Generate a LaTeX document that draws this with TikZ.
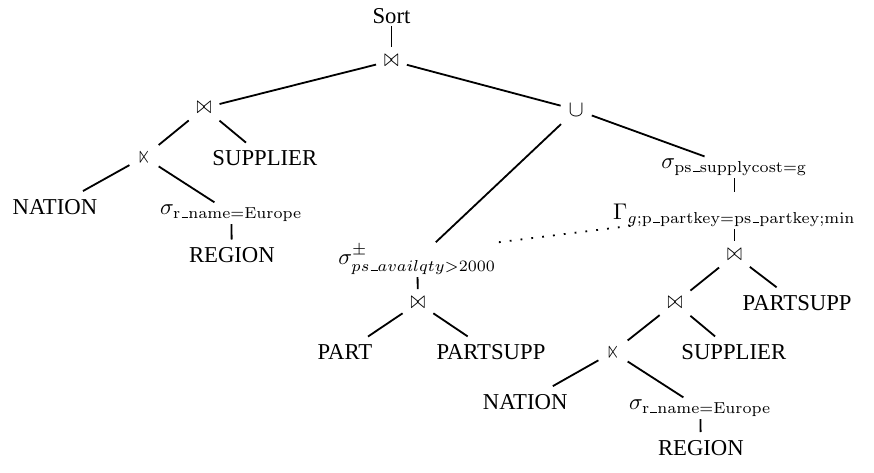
\documentclass[tikz,border=0pt]{standalone}
\usepackage[no-math]{fontspec}
\setmainfont{Liberation Serif}
\usepackage{amssymb}

\newcommand{\joinop}{\scalebox{.78}[1.1]{$\bowtie$}}
\newcommand{\semijoinop}{\scalebox{.75}[1.1]{$\ltimes$}}
\newcommand{\uscore}{\kern.06em\vbox{\hrule width.3em}}

\begin{document}
\begin{tikzpicture}[edge/.style={thick}, op/.style={inner sep=1pt}]
        \useasboundingbox (0,0) rectangle (13.53,-7.31);

        % top of the plan
        \node[inner sep=1pt] (sort) at (6.06,-0.25) {Sort};
        \node (j1) at (6.06,-0.94) {\joinop};
        \node (union) at (8.92,-1.70) {$\cup$};

        % left branch
        \node (j2) at (3.16,-1.67) {\joinop};
        \node (sj1) at (2.23,-2.43) {\semijoinop};
        \node (sup1) at (4.10,-2.45) {SUPPLIER};
        \node (nat1) at (0.85,-3.20) {NATION};
        \node[op] (sel1) at (3.58,-3.30) {$\sigma_{\mathrm{r\uscore name=Europe}}$};
        \node (reg1) at (3.59,-3.95) {REGION};

        % middle branch
        \node[op] (selpm) at (6.46,-4.02) {$\sigma^{\pm}_{ps\uscore availqty>2000}$};
        \node (j5) at (6.47,-4.69) {\joinop};
        \node (part) at (5.34,-5.45) {PART};
        \node (ps1) at (7.60,-5.45) {PARTSUPP};

        % right branch
        \node[op] (selps) at (11.37,-2.59) {$\sigma_{\mathrm{ps\uscore supplycost=g}}$};
        \node[op] (gamma) at (11.37,-3.33) {$\Gamma_{g;\mathrm{p\uscore partkey=ps\uscore partkey;min}}$};
        \node (j3) at (11.37,-3.95) {\joinop};
        \node (j4) at (10.45,-4.69) {\joinop};
        \node (ps2) at (12.34,-4.69) {PARTSUPP};
        \node (sj2) at (9.49,-5.45) {\semijoinop};
        \node (sup2) at (11.36,-5.45) {SUPPLIER};
        \node (nat2) at (8.13,-6.22) {NATION};
        \node[op] (sel2) at (10.84,-6.32) {$\sigma_{\mathrm{r\uscore name=Europe}}$};
        \node (reg2) at (10.85,-6.93) {REGION};

        \draw[edge] (sort) -- (j1);
        \draw[edge] (j1) -- (j2);
        \draw[edge] (j1) -- (union);
        \draw[edge] (j2) -- (sj1);
        \draw[edge] (j2) -- (sup1);
        \draw[edge] (sj1) -- (nat1);
        \draw[edge] (sj1) -- (sel1);
        \draw[edge] (sel1) -- (reg1);

        \draw[edge] (union) -- (selpm);
        \draw[edge] (selpm) -- (j5);
        \draw[edge] (j5) -- (part);
        \draw[edge] (j5) -- (ps1);

        \draw[edge] (union) -- (selps);
        \draw[edge] (selps) -- ([yshift=0.14cm]gamma.north);
        \draw[edge] (gamma) -- (j3);
        \draw[edge] (j3) -- (j4);
        \draw[edge] (j3) -- (ps2);
        \draw[edge] (j4) -- (sj2);
        \draw[edge] (j4) -- (sup2);
        \draw[edge] (sj2) -- (nat2);
        \draw[edge] (sj2) -- (sel2);
        \draw[edge] (sel2) -- (reg2);

        \draw[thick, loosely dotted] (selpm.north east) -- ([xshift=0.34cm,yshift=0.05cm]gamma.south west);
\end{tikzpicture}
\end{document}
